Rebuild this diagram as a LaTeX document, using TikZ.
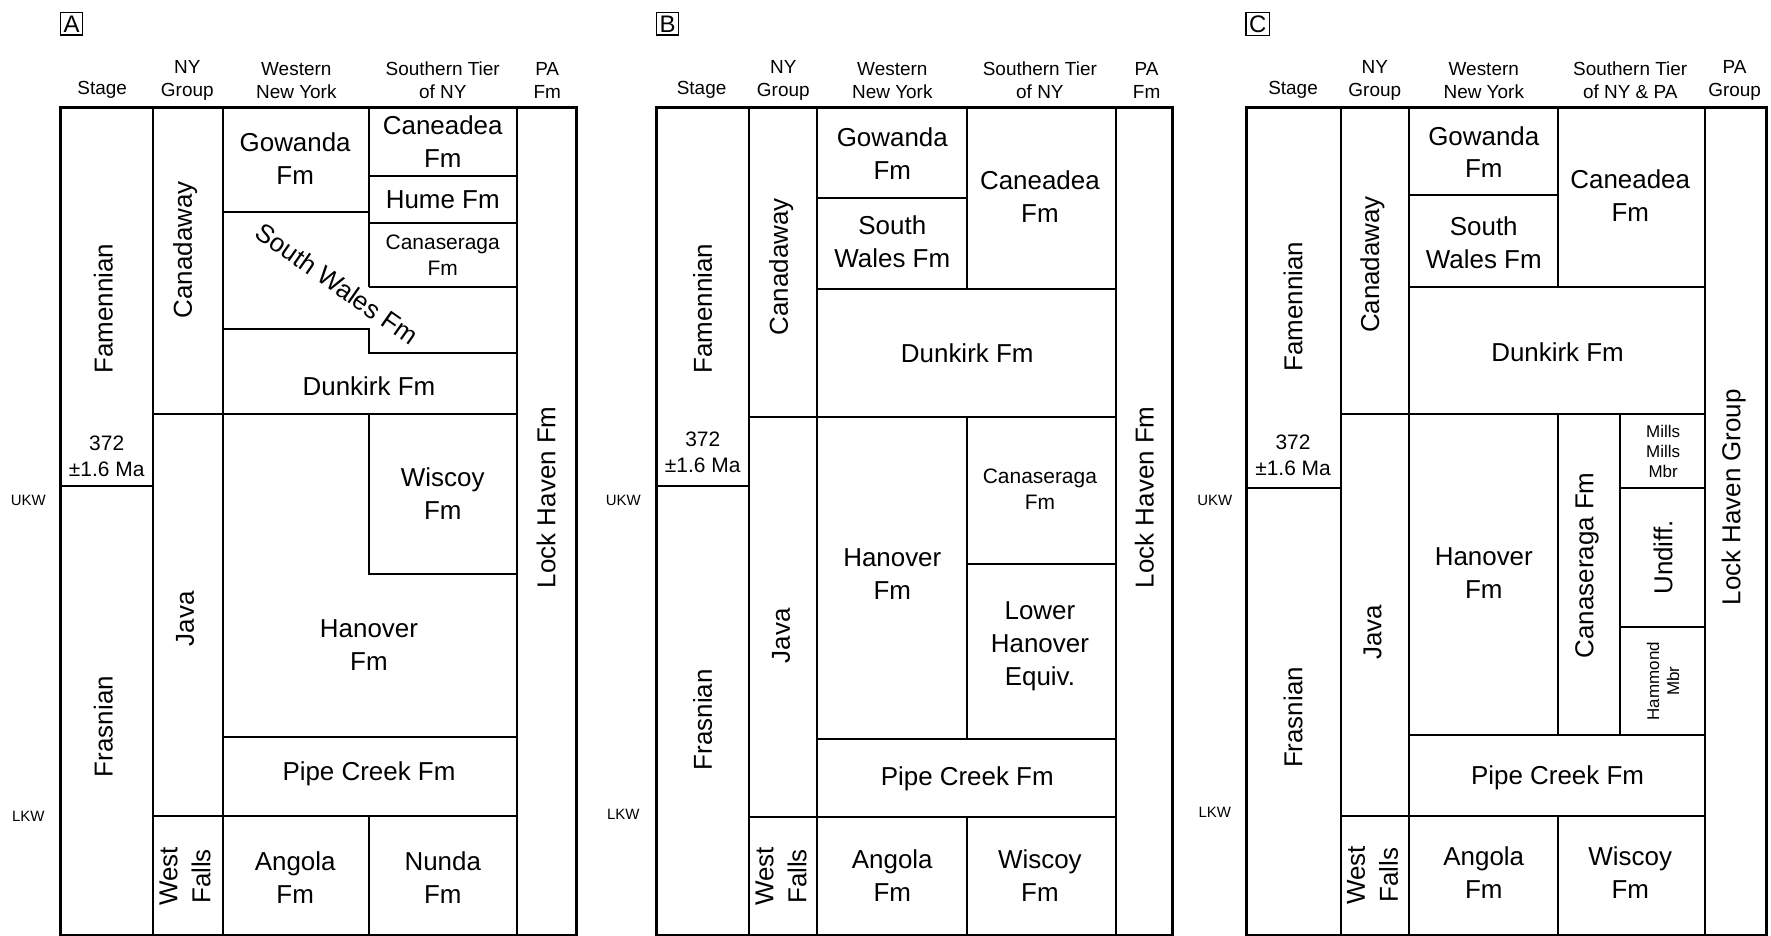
\documentclass[tikz,border=0pt]{standalone}
\usepackage{fontspec}
\setmainfont{Liberation Sans}
\usetikzlibrary{positioning}
\tikzset{
  fm/.style={font=\fontsize{13}{16.5}\selectfont, align=center},
  hdr/.style={font=\fontsize{9.5}{11.5}\selectfont, align=center},
  sm/.style={font=\fontsize{10.5}{13}\selectfont, align=center},
  side/.style={font=\fontsize{7.5}{9}\selectfont},
  tag/.style={draw, thick, inner sep=1.5pt, font=\fontsize{12}{12}\selectfont},
  box/.style={line width=1pt},
  frame/.style={line width=1.6pt}
}
\begin{document}
\begin{tikzpicture}[x=0.02cm, y=-0.02cm]
  \useasboundingbox (0,0) rectangle (1560,824);

  % panel A
  \node[tag] (tagA) at (63,21) {A};
  \node[hdr] (hA1) at (90,79) {Stage};
  \node[hdr] (hA2) at (165,71) {NY\\Group};
  \node[hdr] (hA3) at (261,71) {Western\\New York};
  \node[hdr] (hA4) at (390,71) {Southern Tier\\of NY};
  \node[hdr] (hA5) at (482,71) {PA\\Fm};
  \draw[frame] (53,95) rectangle (508,824);
  \draw[box] (135,95) -- (135,824);
  \draw[box] (196,95) -- (196,824);
  \draw[box] (455,95) -- (455,824);
  \draw[box] (53,428) -- (135,428);
  \draw[box] (135,365) -- (455,365);
  \draw[box] (135,719) -- (455,719);
  \draw[box] (196,187) -- (325,187);
  \draw[box] (325,95) -- (325,253);
  \draw[box] (325,155) -- (455,155);
  \draw[box] (325,196) -- (455,196);
  \draw[box] (325,253) -- (455,253);
  \draw[box] (196,290) -- (325,290) -- (325,311) -- (455,311);
  \draw[box] (325,365) -- (325,506) -- (455,506);
  \draw[box] (196,649) -- (455,649);
  \draw[box] (325,719) -- (325,824);
  \node[fm, rotate=90] (famA) at (91,272) {Famennian};
  \node[fm, rotate=90] (fraA) at (91,640) {Frasnian};
  \node[sm] (maA) at (94,402) {372\\±1.6 Ma};
  \node[fm, rotate=90] (canA) at (163,220) {Canadaway};
  \node[fm, rotate=90] (javA) at (163,545) {Java};
  \node[fm, rotate=90] (wfA) at (163,772) {West\\Falls};
  \node[fm] (gowA) at (260,140) {Gowanda\\Fm};
  \node[fm] (caeA) at (390,125) {Caneadea\\Fm};
  \node[fm] (humA) at (390,176) {Hume Fm};
  \node[sm] (cngA) at (390,225) {Canaseraga\\Fm};
  \node[fm, rotate=-35] (swA) at (297,250) {South Wales Fm};
  \node[fm] (dunA) at (325,340) {Dunkirk Fm};
  \node[fm] (wisA) at (390,435) {Wiscoy\\Fm};
  \node[fm] (hanA) at (325,568) {Hanover\\Fm};
  \node[fm] (pipA) at (325,682) {Pipe Creek Fm};
  \node[fm] (angA) at (260,773) {Angola\\Fm};
  \node[fm] (nunA) at (390,773) {Nunda\\Fm};
  \node[fm, rotate=90] (lhA) at (481,438) {Lock Haven Fm};
  \node[side] (ukA) at (25,441) {UKW};
  \node[side] (lkA) at (25,719) {LKW};

  % panel B
  \node[tag] (tagB) at (588,21) {B};
  \node[hdr] (hB1) at (618,79) {Stage};
  \node[hdr] (hB2) at (690,71) {NY\\Group};
  \node[hdr] (hB3) at (786,71) {Western\\New York};
  \node[hdr] (hB4) at (916,71) {Southern Tier\\of NY};
  \node[hdr] (hB5) at (1010,71) {PA\\Fm};
  \draw[frame] (578,95) rectangle (1033,824);
  \draw[box] (660,95) -- (660,824);
  \draw[box] (720,95) -- (720,824);
  \draw[box] (983,95) -- (983,824);
  \draw[box] (578,428) -- (660,428);
  \draw[box] (660,367) -- (983,367);
  \draw[box] (660,720) -- (983,720);
  \draw[box] (852,95) -- (852,255);
  \draw[box] (720,174) -- (852,174);
  \draw[box] (720,255) -- (983,255);
  \draw[box] (852,367) -- (852,651);
  \draw[box] (852,497) -- (983,497);
  \draw[box] (720,651) -- (983,651);
  \draw[box] (852,720) -- (852,824);
  \node[fm, rotate=90] (famB) at (619,272) {Famennian};
  \node[fm, rotate=90] (fraB) at (619,634) {Frasnian};
  \node[sm] (maB) at (619,398) {372\\±1.6 Ma};
  \node[fm, rotate=90] (canB) at (688,235) {Canadaway};
  \node[fm, rotate=90] (javB) at (688,560) {Java};
  \node[fm, rotate=90] (wfB) at (688,772) {West\\Falls};
  \node[fm] (gowB) at (786,135) {Gowanda\\Fm};
  \node[fm] (swB) at (786,213) {South\\Wales Fm};
  \node[fm] (caeB) at (916,173) {Caneadea\\Fm};
  \node[fm] (dunB) at (852,311) {Dunkirk Fm};
  \node[fm] (hanB) at (786,506) {Hanover\\Fm};
  \node[sm] (cngB) at (916,431) {Canaseraga\\Fm};
  \node[fm] (lhe) at (916,569) {Lower\\Hanover\\Equiv.};
  \node[fm] (pipB) at (852,686) {Pipe Creek Fm};
  \node[fm] (angB) at (786,771) {Angola\\Fm};
  \node[fm] (wisB) at (916,771) {Wiscoy\\Fm};
  \node[fm, rotate=90] (lhB) at (1008,438) {Lock Haven Fm};
  \node[side] (ukB) at (549,441) {UKW};
  \node[side] (lkB) at (549,717) {LKW};

  % panel C
  \node[tag] (tagC) at (1108,21) {C};
  \node[hdr] (hC1) at (1139,79) {Stage};
  \node[hdr] (hC2) at (1211,71) {NY\\Group};
  \node[hdr] (hC3) at (1307,71) {Western\\New York};
  \node[hdr] (hC4) at (1436,71) {Southern Tier\\of NY \& PA};
  \node[hdr] (hC5) at (1528,71) {PA\\Group};
  \draw[frame] (1098,95) rectangle (1556,824);
  \draw[box] (1181,95) -- (1181,824);
  \draw[box] (1241,95) -- (1241,824);
  \draw[box] (1502,95) -- (1502,824);
  \draw[box] (1098,430) -- (1181,430);
  \draw[box] (1181,365) -- (1502,365);
  \draw[box] (1181,719) -- (1502,719);
  \draw[box] (1372,95) -- (1372,253);
  \draw[box] (1241,172) -- (1372,172);
  \draw[box] (1241,253) -- (1502,253);
  \draw[box] (1372,365) -- (1372,647);
  \draw[box] (1427,365) -- (1427,647);
  \draw[box] (1427,430) -- (1502,430);
  \draw[box] (1427,552) -- (1502,552);
  \draw[box] (1241,647) -- (1502,647);
  \draw[box] (1372,719) -- (1372,824);
  \node[fm, rotate=90] (famC) at (1139,270) {Famennian};
  \node[fm, rotate=90] (fraC) at (1139,632) {Frasnian};
  \node[sm] (maC) at (1139,401) {372\\±1.6 Ma};
  \node[fm, rotate=90] (canC) at (1209,233) {Canadaway};
  \node[fm, rotate=90] (javC) at (1209,557) {Java};
  \node[fm, rotate=90] (wfC) at (1209,771) {West\\Falls};
  \node[fm] (gowC) at (1307,134) {Gowanda\\Fm};
  \node[fm] (swC) at (1307,214) {South\\Wales Fm};
  \node[fm] (caeC) at (1436,172) {Caneadea\\Fm};
  \node[fm] (dunC) at (1372,310) {Dunkirk Fm};
  \node[fm] (hanC) at (1307,505) {Hanover\\Fm};
  \node[fm, rotate=90] (cngC) at (1398,498) {Canaseraga Fm};
  \node[font=\fontsize{8.5}{10}\selectfont, align=center] (mil) at (1465,398) {Mills\\Mills\\Mbr};
  \node[fm, rotate=90] (und) at (1465,491) {Undiff.};
  \node[font=\fontsize{8.5}{10}\selectfont, align=center, rotate=90] (ham) at (1465,600) {Hammond\\Mbr};
  \node[fm] (pipC) at (1372,685) {Pipe Creek Fm};
  \node[fm] (angC) at (1307,769) {Angola\\Fm};
  \node[fm] (wisC) at (1436,769) {Wiscoy\\Fm};
  \node[fm, rotate=90] (lhC) at (1527,438) {Lock Haven Group};
  \node[side] (ukC) at (1070,441) {UKW};
  \node[side] (lkC) at (1070,716) {LKW};
\end{tikzpicture}
\end{document}
